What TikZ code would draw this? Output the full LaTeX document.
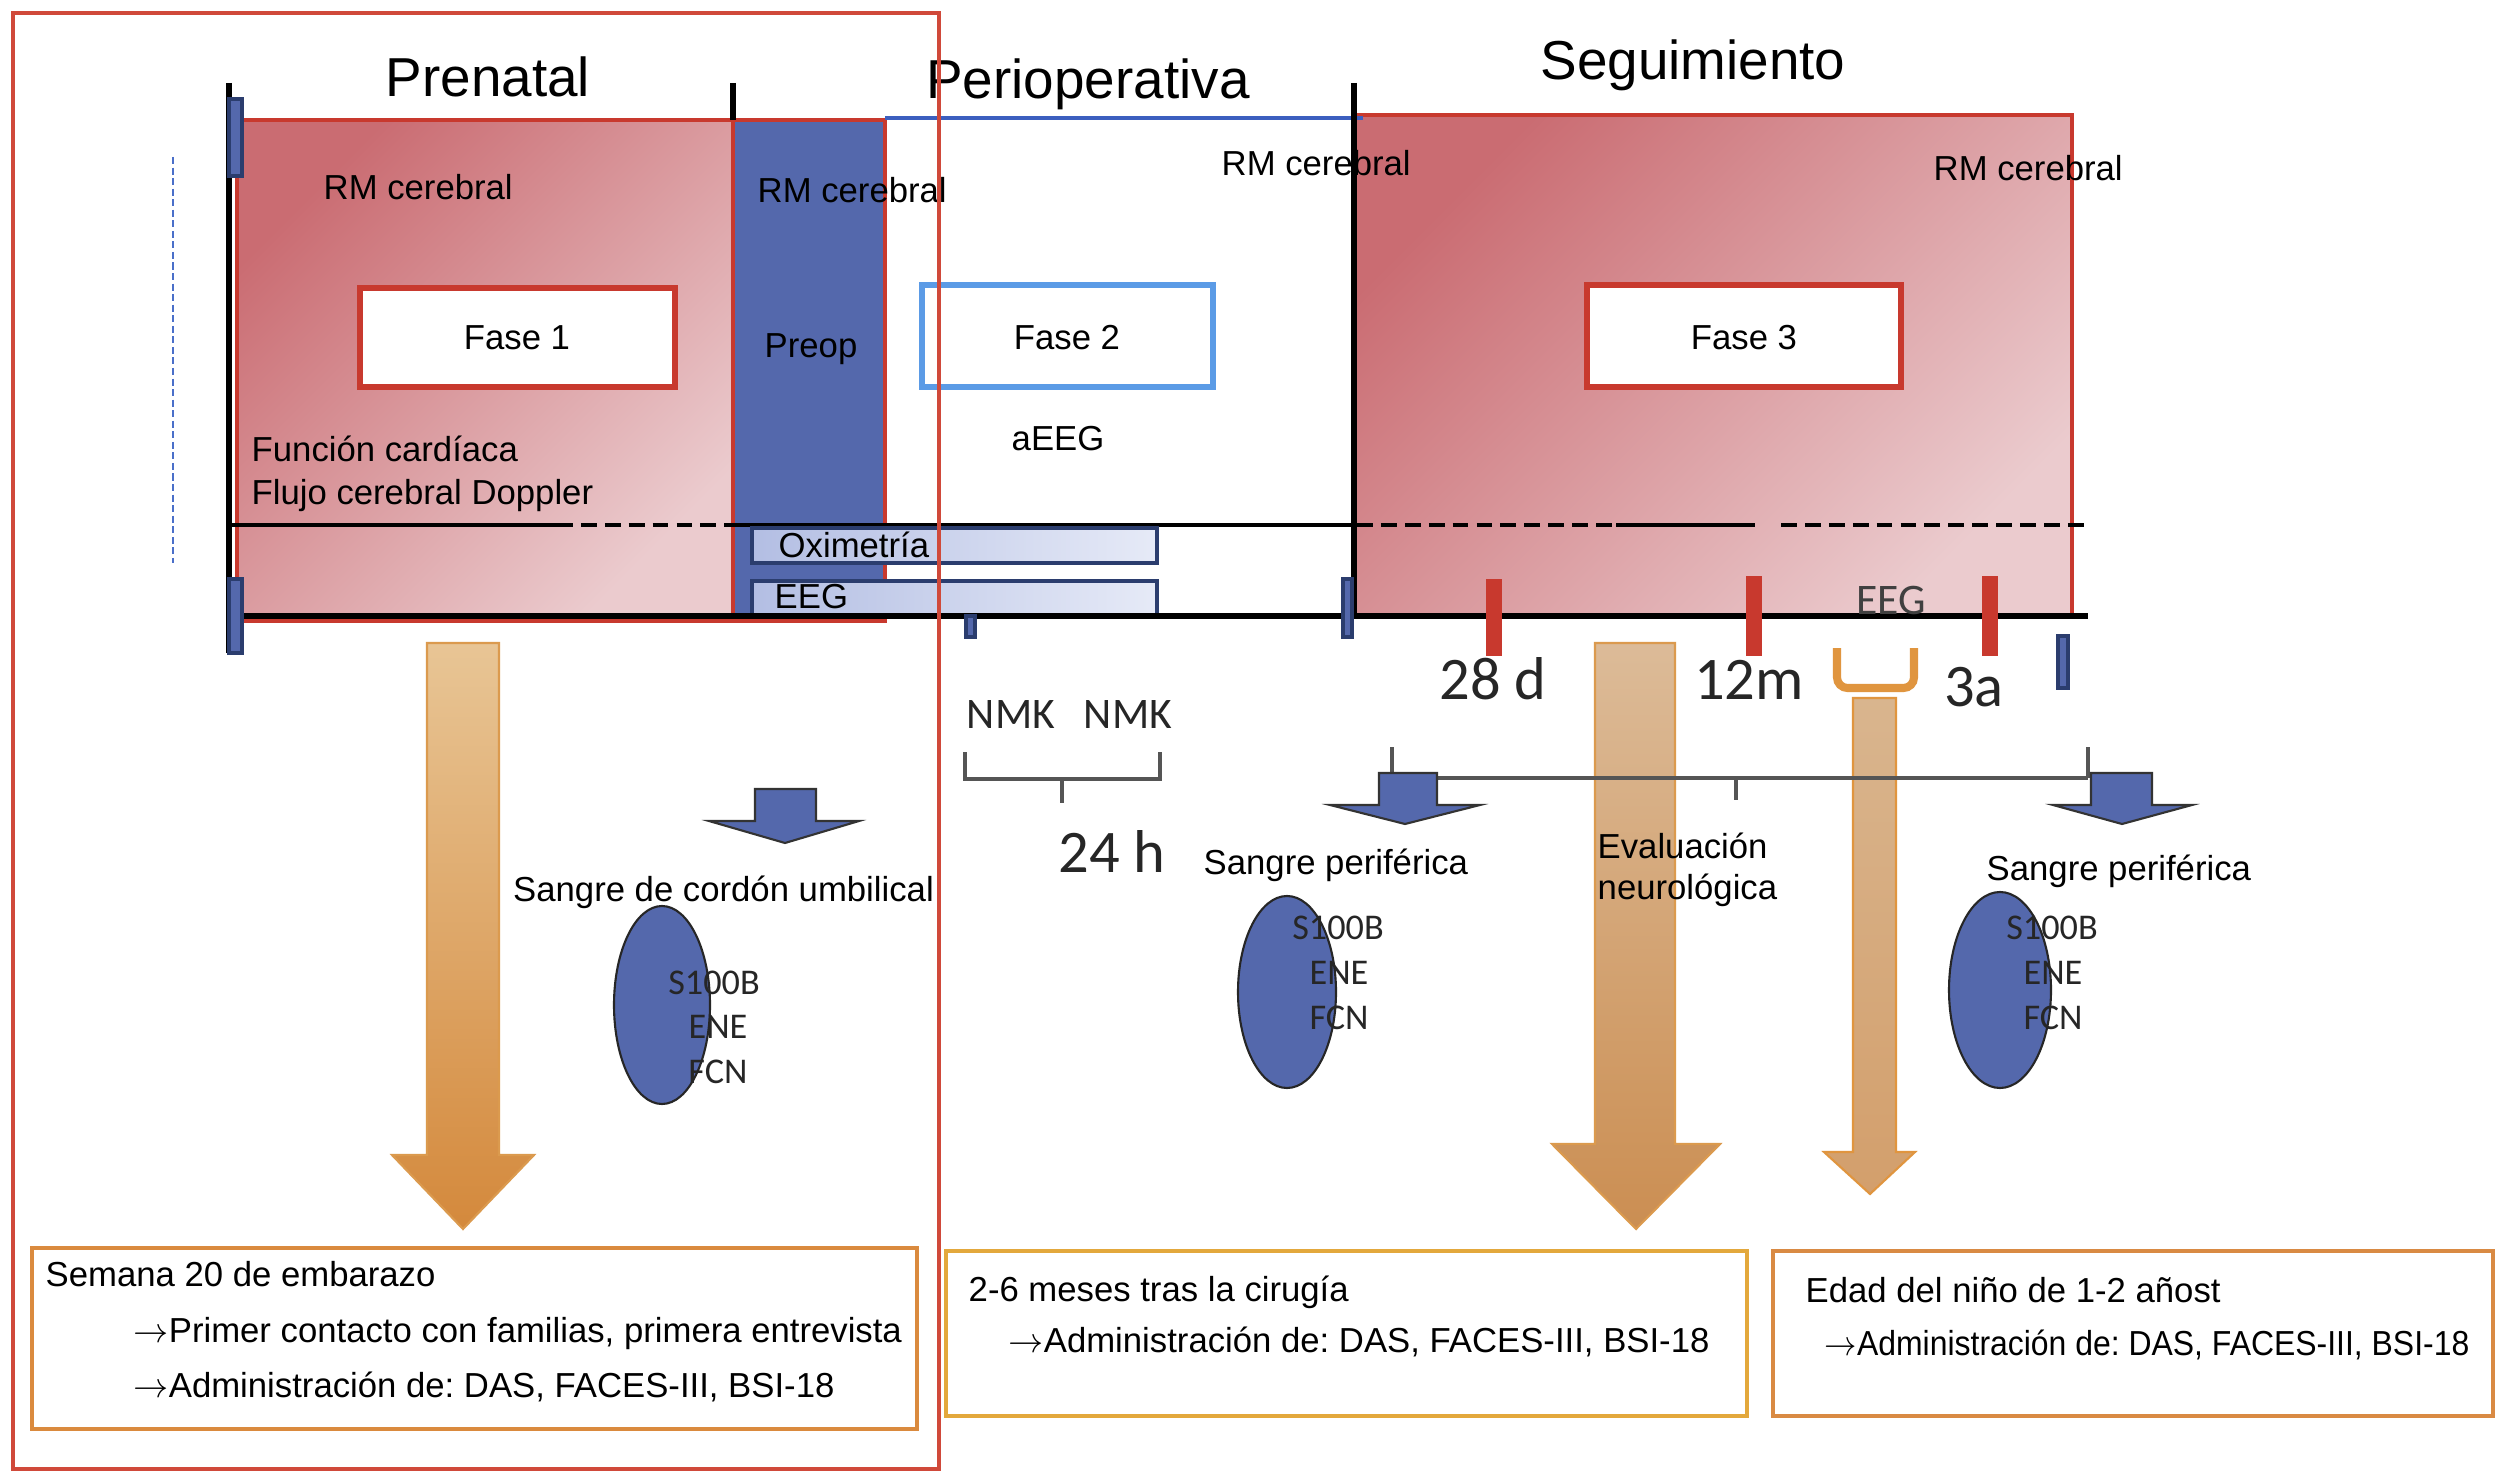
\documentclass[tikz,border=0pt]{standalone}
\usepackage{fontspec}
\usepackage{graphicx}
\setmainfont{Liberation Sans}
\newfontfamily\calib{Carlito}
\frenchspacing
\newcommand{\rarr}{$\rightarrow$}
\definecolor{redline}{HTML}{C8392E}
\definecolor{bigred}{HTML}{D0493A}
\definecolor{pinkD}{HTML}{CA6C72}
\definecolor{pinkL}{HTML}{EBCBCE}
\definecolor{bluefill}{HTML}{5468AC}
\definecolor{navy}{HTML}{2B3D6E}
\definecolor{lightblueb}{HTML}{5B9BE6}
\definecolor{topblue}{HTML}{3C5FBF}
\definecolor{barL}{HTML}{B3BEE3}
\definecolor{barR}{HTML}{E6EAF7}
\definecolor{boxA}{HTML}{DA8A3E}
\definecolor{boxB}{HTML}{E3A83C}
\definecolor{boxC}{HTML}{D98A43}
\definecolor{arrT}{HTML}{E8C595}
\definecolor{arrB}{HTML}{D4893C}
\definecolor{arrE}{HTML}{DB9A4E}
\definecolor{segT}{HTML}{DCBB98}
\definecolor{segB}{HTML}{CB8E52}
\definecolor{thinF}{HTML}{D9B58E}
\definecolor{brk}{HTML}{E0953F}
\definecolor{grayline}{HTML}{555555}
\definecolor{dotblue}{HTML}{4A6FC9}
\tikzset{
  body/.style={font=\fontsize{9.87}{12}\selectfont, inner sep=0pt},
  ttl/.style={font=\fontsize{15.6}{18}\selectfont, inner sep=0pt},
  calbig/.style={font=\calib\fontsize{17.2}{20}\selectfont, inner sep=0pt, text=black!85},
  calmid/.style={font=\calib\fontsize{12.4}{14}\selectfont, inner sep=0pt, text=black!85},
  calsm/.style={font=\calib\fontsize{10.3}{12}\selectfont, inner sep=0pt, text=black!85},
  redout/.style={draw=redline, line width=1.4pt},
  axisline/.style={draw=black, line width=1.7pt},
  navybox/.style={draw=navy, line width=1.1pt, fill=bluefill},
  barbox/.style={draw=navy, line width=1.1pt, left color=barL, right color=barR},
  fasebox/.style={fill=white, line width=1.7pt},
  dashline/.style={draw=black, line width=1.4pt, dash pattern=on 4.5pt off 2.3pt},
  solidline/.style={draw=black, line width=1.4pt},
  redtick/.style={fill=redline},
  bluearrow/.style={fill=bluefill, draw=black!80, line width=0.6pt},
  blueell/.style={fill=bluefill},
  bottombox/.style={fill=white, line width=1.4pt},
  bigarrow/.style={draw=arrE, line width=0.6pt},
}
\begin{document}
\begin{tikzpicture}[x=0.01cm, y=-0.01cm, line join=miter]
\useasboundingbox (0,0) rectangle (2508,1482);
\fill[white] (0,0) rectangle (2508,1482);

% ---- coloured phase blocks
\shade[top color=pinkD, bottom color=pinkL, shading angle=45] (237,120) rectangle (733,616);
\fill[bluefill] (733,120) rectangle (885,616);
\shade[top color=pinkD, bottom color=pinkL, shading angle=45] (1354,115) rectangle (2072,616);

% ---- outlines
\draw[redout] (237,120) rectangle (885,621);
\draw[redout] (733,120) -- (733,616);
\draw[redout] (1354,115) -- (2072,115) -- (2072,616);
\draw[draw=topblue, line width=1.4pt] (885,118) -- (1363,118);

% ---- fase boxes
\draw[fasebox, draw=redline] (360,288) rectangle (675,387);
\draw[fasebox, draw=lightblueb] (922,285) rectangle (1213,387);
\draw[fasebox, draw=redline] (1587,285) rectangle (1901,387);
\node[body] (f1) at (517,338) {Fase 1};
\node[body] (f2) at (1067,338) {Fase 2};
\node[body] (f3) at (1744,338) {Fase 3};

% ---- line at y=525
\draw[solidline] (229,525) -- (557,525);
\draw[dashline] (557,525) -- (733,525);
\draw[solidline] (733,525) -- (1354,525);
\draw[dashline] (1357,525) -- (1616,525);
\draw[solidline] (1616,525) -- (1755,525);
\draw[dashline] (1781,525) -- (2090,525);

% ---- bars
\draw[barbox] (752,528) rectangle (1157,563);
\draw[barbox] (752,581) rectangle (1157,616);

% ---- axis and ticks
\draw[axisline] (229,616) -- (2088,616);
\draw[axisline] (229,83) -- (229,653);
\draw[axisline] (733,83) -- (733,120);
\draw[axisline] (1354,83) -- (1354,616);
\draw[navybox] (229,99) rectangle (242,176);
\draw[navybox] (229,579) rectangle (242,653);
\draw[navybox] (966,616) rectangle (975,637);
\draw[navybox] (1343,579) rectangle (1352,637);
\draw[navybox] (2058,636) rectangle (2068,688);
\fill[redtick] (1486,579) rectangle (1502,656);
\fill[redtick] (1746,576) rectangle (1762,656);
\fill[redtick] (1982,576) rectangle (1998,656);
\draw[dotblue, line width=0.5pt, dash pattern=on 2pt off 1pt] (173,157) -- (173,563);

% ---- titles
\node[ttl, anchor=base] (tpre) at (488,97) {Prenatal};
\node[ttl, anchor=base] (tperi) at (1088,99) {Perioperativa};
\node[ttl, anchor=base] (tseg) at (1693,80) {Seguimiento};

% ---- upper texts
\node[body, anchor=base west] (rm1) at (323,200) {RM cerebral};
\node[body, anchor=base west] (rm2) at (757,203) {RM cerebral};
\node[body, anchor=base west] (rm3) at (1221,176) {RM cerebral};
\node[body, anchor=base west] (rm4) at (1933,181) {RM cerebral};
\node[body, anchor=base] (preop) at (811,357) {Preop};
\node[body, anchor=base] (aeeg) at (1058,450) {aEEG};
\node[body, anchor=base west] (fc) at (251,462) {Función cardíaca};
\node[body, anchor=base west] (fd) at (251,504) {Flujo cerebral Doppler};
\node[body, anchor=base west] (oxi) at (778,557) {Oximetría};
\node[body, anchor=base west] (eeg1) at (774,608) {EEG};
\node[calmid, anchor=base, text=black!75] (eeg2) at (1891,614) {EEG};

% ---- time labels
\node[calbig, anchor=base] (d28) at (1493,699) {28 d};
\node[calbig, anchor=base] (m12) at (1749,699) {12m};
\node[calbig, anchor=base] (a3) at (1974,706) {3a};
\node[calmid, anchor=base] (nmk1) at (1011,728) {NMK};
\node[calmid, anchor=base] (nmk2) at (1128,728) {NMK};
\node[calbig, anchor=base] (h24) at (1112,872) {24 h};
\draw[grayline, line width=0.9pt] (965,752) -- (965,779) -- (1160,779) -- (1160,752);
\draw[grayline, line width=0.9pt] (1062,779) -- (1062,803);

% ---- orange bracket
\draw[brk, line width=2.3pt, rounded corners=3pt] (1837,648) -- (1837,688) -- (1914,688) -- (1914,648);

% ---- big orange arrows
\shade[bigarrow, top color=arrT, bottom color=arrB] (427,643) -- (499,643) -- (499,1155) -- (534,1155) -- (463,1229) -- (392,1155) -- (427,1155) -- cycle;
\shade[bigarrow, top color=segT, bottom color=segB] (1595,643) -- (1675,643) -- (1675,1144) -- (1720,1144) -- (1636,1229) -- (1552,1144) -- (1595,1144) -- cycle;
\shade[bigarrow, draw=brk, top color=thinF, bottom color=segB!85] (1853,698) -- (1896,698) -- (1896,1152) -- (1915,1152) -- (1870,1194) -- (1824,1152) -- (1853,1152) -- cycle;

% ---- gray timeline
\draw[grayline, line width=0.9pt] (1392,778) -- (2088,778);
\draw[grayline, line width=0.9pt] (1392,747) -- (1392,778);
\draw[grayline, line width=0.9pt] (2088,747) -- (2088,778);
\draw[grayline, line width=0.9pt] (1736,778) -- (1736,800);

% ---- blue arrows
\draw[bluearrow] (755,789) -- (816,789) -- (816,821) -- (859,821) -- (785,843) -- (709,821) -- (755,821) -- cycle;
\draw[bluearrow] (1379,773) -- (1437,773) -- (1437,805) -- (1480,805) -- (1405,824) -- (1330,805) -- (1379,805) -- cycle;
\draw[bluearrow] (2091,773) -- (2152,773) -- (2152,805) -- (2192,805) -- (2122,824) -- (2053,805) -- (2091,805) -- cycle;

% ---- blood labels
\node[body, anchor=base west, fill=white, inner sep=1pt] (sc) at (509,901) {Sangre de cordón umbilical};
\node[body, anchor=base west] (sp1) at (1203,874) {Sangre periférica};
\node[body, anchor=base west] (sp2) at (1986,880) {Sangre periférica};
\node[body, anchor=base west] (ev1) at (1597,858) {Evaluación};
\node[body, anchor=base west] (ev2) at (1597,899) {neurológica};

% ---- ellipses
\fill[blueell] (662,1005) ellipse [x radius=48, y radius=99];
\draw[black!85, line width=0.6pt] (662,1005) ellipse [x radius=48, y radius=99];
\fill[blueell] (1287,992) ellipse [x radius=49, y radius=96];
\draw[black!85, line width=0.6pt] (1287,992) ellipse [x radius=49, y radius=96];
\fill[blueell] (2000,990) ellipse [x radius=51, y radius=98];
\draw[black!85, line width=0.6pt] (2000,990) ellipse [x radius=51, y radius=98];
\node[calsm, anchor=base] (s1a) at (714,994) {S100B};
\node[calsm, anchor=base] (s1b) at (718,1038) {ENE};
\node[calsm, anchor=base] (s1c) at (718,1083) {FCN};
\node[calsm, anchor=base] (s2a) at (1338,939) {S100B};
\node[calsm, anchor=base] (s2b) at (1339,984) {ENE};
\node[calsm, anchor=base] (s2c) at (1339,1029) {FCN};
\node[calsm, anchor=base] (s3a) at (2052,939) {S100B};
\node[calsm, anchor=base] (s3b) at (2053,984) {ENE};
\node[calsm, anchor=base] (s3c) at (2053,1029) {FCN};

% ---- bottom boxes
\draw[bottombox, draw=boxA] (32,1248) rectangle (917,1429);
\draw[bottombox, draw=boxB] (946,1251) rectangle (1747,1416);
\draw[bottombox, draw=boxC] (1773,1251) rectangle (2493,1416);
\node[body, anchor=base west] (b1a) at (45,1286) {Semana 20 de embarazo};
\node[body, anchor=base west] (b1b) at (133,1342) {\rarr Primer contacto con familias, primera entrevista};
\node[body, anchor=base west] (b1c) at (133,1397) {\rarr Administración de: DAS, FACES-III, BSI-18};
\node[body, anchor=base west] (b2a) at (968,1301) {2-6 meses tras la cirugía};
\node[body, anchor=base west] (b2b) at (1008,1352) {\rarr Administración de: DAS, FACES-III, BSI-18};
\node[body, anchor=base west] (b3a) at (1805,1302) {Edad del niño de 1-2 añost};
\node[body, anchor=base west] (b3b) at (1824,1355) {\scalebox{0.92}[1]{\rarr Administración de: DAS, FACES-III, BSI-18}};

% ---- big prenatal outline
\draw[draw=bigred, line width=1.4pt] (13,13) rectangle (939,1469);
\end{tikzpicture}
\end{document}
